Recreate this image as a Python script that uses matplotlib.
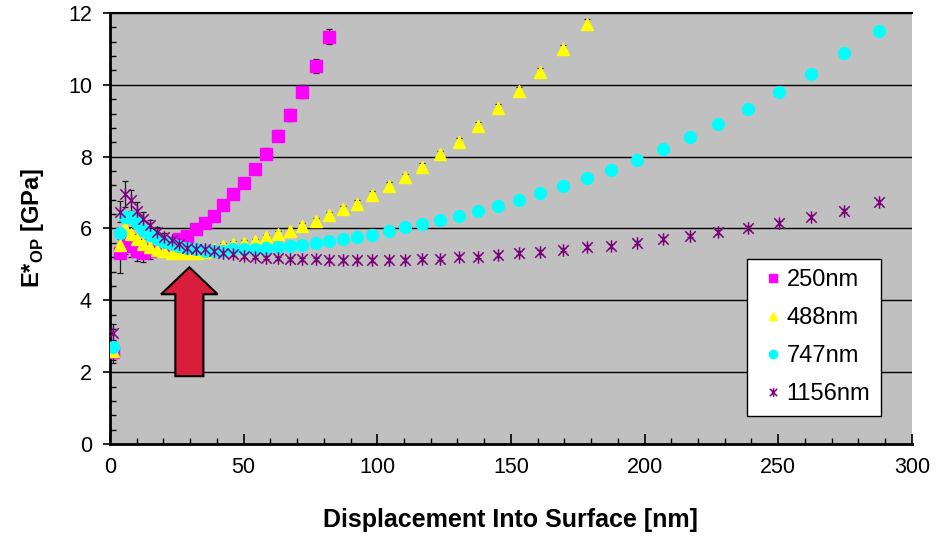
import numpy as np
import matplotlib.pyplot as plt
from matplotlib.path import Path
from matplotlib.patches import FancyArrow
from matplotlib.ticker import MultipleLocator

plt.rcParams['font.family'] = ['Liberation Sans', 'DejaVu Sans']
plt.rcParams['mathtext.fontset'] = 'custom'
plt.rcParams['mathtext.rm'] = 'Liberation Sans'
plt.rcParams['mathtext.bf'] = 'Liberation Sans:bold'

# displacement steps shared by all four films (nm)
depth = [1.1, 3.6, 5.8, 8.0, 10.2, 12.5, 15.0, 17.6, 20.3, 23.1,
         26.0, 29.0, 32.2, 35.5, 38.9, 42.4, 46.1, 50.2, 54.3, 58.5,
         62.8, 67.2, 72.0, 76.9, 82.1, 87.2, 92.5, 98.2, 104.3, 110.4,
         116.8, 123.5, 130.5, 137.6, 145.1, 153.0, 161.0, 169.5, 178.5, 187.5,
         197.0, 206.8, 216.9, 227.6, 238.8, 250.2, 262.4, 274.8, 287.8]

labels = ['250nm', '488nm', '747nm', '1156nm']

# E*_OP [GPa]
e250 = [2.56, 5.31, 5.60, 5.52, 5.38, 5.33, 5.36, 5.40, 5.49, 5.60,
        5.71, 5.80, 5.99, 6.16, 6.35, 6.65, 6.96, 7.27, 7.66, 8.08,
        8.58, 9.16, 9.81, 10.53, 11.34]
e488 = [2.60, 5.55, 6.00, 5.85, 5.70, 5.58, 5.48, 5.41, 5.36, 5.33,
        5.31, 5.31, 5.32, 5.35, 5.42, 5.52, 5.57, 5.61, 5.64, 5.75,
        5.85, 5.94, 6.07, 6.22, 6.38, 6.53, 6.69, 6.93, 7.18, 7.42,
        7.72, 8.07, 8.42, 8.86, 9.36, 9.83, 10.36, 11.00, 11.70]
e747 = [2.71, 5.87, 6.33, 6.33, 6.15, 5.96, 5.82, 5.72, 5.63, 5.56,
        5.50, 5.45, 5.42, 5.38, 5.38, 5.38, 5.42, 5.42, 5.42, 5.45,
        5.48, 5.52, 5.54, 5.59, 5.66, 5.71, 5.76, 5.83, 5.92, 6.03,
        6.12, 6.24, 6.34, 6.49, 6.63, 6.79, 6.98, 7.18, 7.40, 7.63,
        7.91, 8.21, 8.55, 8.91, 9.33, 9.80, 10.29, 10.88, 11.49]
e1156 = [3.08, 6.47, 6.96, 6.78, 6.50, 6.26, 6.10, 5.91, 5.77, 5.68,
         5.57, 5.47, 5.43, 5.42, 5.38, 5.33, 5.29, 5.24, 5.22, 5.19,
         5.17, 5.14, 5.14, 5.14, 5.13, 5.12, 5.12, 5.12, 5.13, 5.12,
         5.14, 5.16, 5.20, 5.22, 5.26, 5.31, 5.34, 5.41, 5.48, 5.52,
         5.61, 5.71, 5.80, 5.90, 6.02, 6.16, 6.32, 6.50, 6.74]

# standard deviations
sd250 = [0.30, 0.55, 0.30, 0.30, 0.28, 0.25, 0.20, 0.15, 0.12, 0.10,
         0.10, 0.10, 0.10, 0.10, 0.10, 0.12, 0.12, 0.13, 0.14, 0.15,
         0.15, 0.16, 0.18, 0.20, 0.20]
sd488 = [0.25, 0.30, 0.25, 0.20, 0.15, 0.12, 0.10, 0.08, 0.08, 0.08,
         0.08, 0.08, 0.08, 0.08, 0.08, 0.08, 0.08, 0.08, 0.08, 0.08,
         0.08, 0.08, 0.08, 0.08, 0.09, 0.09, 0.09, 0.10, 0.10, 0.10,
         0.10, 0.10, 0.10, 0.10, 0.11, 0.11, 0.12, 0.12, 0.12]
sd747 = [0.20, 0.15, 0.12, 0.10, 0.08, 0.06, 0.05, 0.05, 0.05, 0.05,
         0.05, 0.05, 0.05, 0.05, 0.05, 0.05, 0.05, 0.05, 0.05, 0.05,
         0.05, 0.05, 0.05, 0.05, 0.05, 0.05, 0.05, 0.05, 0.05, 0.05,
         0.05, 0.05, 0.05, 0.05, 0.05, 0.05, 0.05, 0.05, 0.05, 0.05,
         0.05, 0.05, 0.05, 0.05, 0.05, 0.05, 0.05, 0.05, 0.05]
sd1156 = [0.25, 0.30, 0.35, 0.30, 0.25, 0.20, 0.15, 0.12, 0.10, 0.08,
          0.06, 0.05, 0.05, 0.05, 0.05, 0.05, 0.05, 0.05, 0.05, 0.05,
          0.05, 0.05, 0.05, 0.05, 0.05, 0.05, 0.05, 0.05, 0.05, 0.05,
          0.05, 0.05, 0.05, 0.05, 0.05, 0.05, 0.05, 0.05, 0.05, 0.05,
          0.05, 0.05, 0.05, 0.05, 0.05, 0.05, 0.05, 0.05, 0.05]

# excel-style asterisk: an x with a vertical bar through it
star = Path([(-1, -1), (1, 1), (-1, 1), (1, -1), (0, -1.2), (0, 1.2)],
            [Path.MOVETO, Path.LINETO, Path.MOVETO, Path.LINETO,
             Path.MOVETO, Path.LINETO])

styles = [('s', '#ff00ff', 8),
          ('^', '#ffff00', 9),
          ('o', '#00ffff', 8.5),
          (star, '#800080', 9)]

fig = plt.figure(figsize=(9.4, 5.37), dpi=100)
ax = fig.add_axes([0.117, 0.173, 0.853, 0.803])
ax.set_facecolor('#c0c0c0')

for vals, sd, lab, (mk, col, ms) in zip([e250, e488, e747, e1156],
                                        [sd250, sd488, sd747, sd1156],
                                        labels, styles):
    x = depth[:len(vals)]
    ax.errorbar(x, vals, yerr=sd, fmt='none', ecolor='#1a1a1a',
                elinewidth=0.9, capsize=2.5, capthick=0.9, zorder=2)
    if mk is star:
        ax.plot(x, vals, ls='none', marker=mk, ms=ms, mfc='none', mec=col,
                mew=1.1, label=lab, zorder=3)
    else:
        ax.plot(x, vals, ls='none', marker=mk, ms=ms, mfc=col, mec=col,
                label=lab, zorder=3)

# arrow pointing at the plateau
arrow = FancyArrow(29.7, 1.89, 0, 3.03, width=10.5, head_width=21.2,
                   head_length=0.75, length_includes_head=True,
                   fc='#d81e3c', ec='black', lw=1.5, zorder=5)
ax.add_patch(arrow)

ax.set_xlim(0, 300)
ax.set_ylim(0, 12)
ax.xaxis.set_major_locator(MultipleLocator(50))
ax.xaxis.set_minor_locator(MultipleLocator(10))
ax.yaxis.set_major_locator(MultipleLocator(2))
ax.yaxis.set_minor_locator(MultipleLocator(0.4))
ax.yaxis.grid(True, color='black', lw=1)
ax.set_axisbelow(True)

ax.tick_params(axis='x', which='major', direction='in', length=7, width=1.2,
               labelsize=15.5, pad=9)
ax.tick_params(axis='x', which='minor', direction='in', length=4, width=1)
ax.tick_params(axis='y', which='major', direction='out', length=5, width=1.2,
               labelsize=15.5, pad=8)
ax.tick_params(axis='y', which='minor', direction='in', length=4, width=1)

for s in ['left', 'bottom']:
    ax.spines[s].set_linewidth(2)
ax.spines['top'].set_linewidth(1.5)
ax.spines['right'].set_visible(False)

ax.set_xlabel('Displacement Into Surface [nm]', fontsize=18,
              fontweight='bold', labelpad=22)
ax.set_ylabel(r'E*$_{\mathbf{OP}}$ [GPa]', fontsize=17, fontweight='bold',
              labelpad=16)

leg = ax.legend(loc='lower left', bbox_to_anchor=(0.794, 0.065),
                borderaxespad=0, frameon=True, fancybox=False,
                edgecolor='black', framealpha=1, fontsize=17,
                labelspacing=0.68, handlelength=1.3, handletextpad=-0.06,
                borderpad=0.45, markerscale=0.7)
leg.get_frame().set_linewidth(1)

fig.savefig('out.png', dpi=100)
